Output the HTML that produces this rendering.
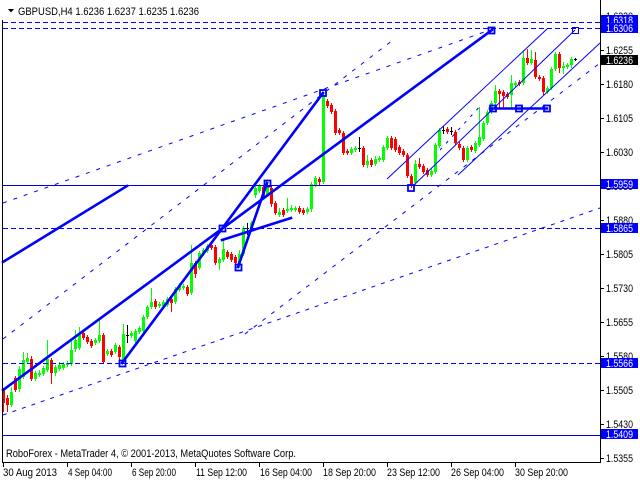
<!DOCTYPE html>
<html><head><meta charset="utf-8">
<style>
html,body{margin:0;padding:0;background:#fff;}
svg{display:block;font-family:"Liberation Sans",sans-serif;}
</style></head>
<body>
<svg width="640" height="480" viewBox="0 0 640 480" xmlns="http://www.w3.org/2000/svg">
<rect x="0" y="0" width="640" height="480" fill="#fff"/>
<!-- candles -->
<g id="c" shape-rendering="crispEdges"></g>

<!-- horizontal levels -->
<g fill="none" stroke="#0000ff" stroke-width="1" shape-rendering="crispEdges">
<line x1="3" y1="22.5" x2="600" y2="22.5" stroke-dasharray="5,3"/>
<line x1="3" y1="28.5" x2="600" y2="28.5" stroke-dasharray="5,3"/>
<line x1="3" y1="185.5" x2="600" y2="185.5" stroke="#0000d8"/>
<line x1="3" y1="228.5" x2="600" y2="228.5" stroke-dasharray="5,3"/>
<line x1="3" y1="363.5" x2="600" y2="363.5" stroke-dasharray="5,3"/>
<line x1="3" y1="435.5" x2="600" y2="435.5" stroke="#0000d8"/>
</g>

<!-- dotted trend lines -->
<g fill="none" stroke="#0000ff" stroke-width="1">
<line x1="3" y1="203" x2="490" y2="30" stroke-dasharray="4,7"/>
<line x1="3" y1="339" x2="393" y2="40" stroke-dasharray="4,7"/>
<line x1="245" y1="334" x2="600" y2="63" stroke-dasharray="4,7"/>
<line x1="3" y1="415" x2="600" y2="208" stroke-dasharray="4,6"/>
<line x1="440" y1="150" x2="482" y2="104" stroke-dasharray="3,6"/>
</g>

<!-- thin channel lines -->
<g fill="none" stroke="#0000ff" stroke-width="1">
<line x1="387" y1="179" x2="547" y2="29"/>
<line x1="413" y1="186" x2="575" y2="30"/>
<line x1="458" y1="175" x2="600" y2="43"/>
</g>

<!-- thick lines -->
<g fill="none" stroke="#0000ff" stroke-width="2.6" stroke-linecap="square">
<line x1="3" y1="390" x2="492" y2="30"/>
<line x1="122" y1="363" x2="323" y2="93"/>
<line x1="238" y1="267" x2="267" y2="183"/>
<line x1="222" y1="240" x2="291" y2="218"/>
<line x1="3" y1="262" x2="127" y2="186"/>
<line x1="490" y1="108.5" x2="547" y2="108.5"/>
</g>

<!-- anchor squares -->
<g fill="none" stroke="#0000ff" stroke-width="1.8">
<rect x="119.5" y="360.5" width="6" height="6"/>
<rect x="219.5" y="225.5" width="6" height="6"/>
<rect x="235.5" y="264.5" width="6" height="6"/>
<rect x="264.5" y="180.5" width="6" height="6"/>
<rect x="320" y="90" width="6" height="6"/>
<rect x="488.5" y="27.5" width="6" height="6"/>
<rect x="408" y="185" width="6" height="6"/>
<rect x="490" y="105.5" width="6" height="6"/>
<rect x="516" y="105.5" width="6" height="6"/>
<rect x="544" y="105.5" width="6" height="6"/>
</g>
<rect x="572.5" y="27.5" width="6" height="6" fill="none" stroke="#0000ff" stroke-width="1"/>

<!-- frame -->
<g stroke="#000" stroke-width="1" shape-rendering="crispEdges">
<line x1="2.5" y1="20" x2="2.5" y2="463"/>
<line x1="600.5" y1="0" x2="600.5" y2="463"/>
<line x1="2" y1="462.5" x2="601" y2="462.5"/>
</g>

<!-- right axis ticks -->
<g stroke="#000" stroke-width="1" shape-rendering="crispEdges">
<line x1="600" y1="16.5" x2="604" y2="16.5"/>
<line x1="600" y1="50.5" x2="604" y2="50.5"/>
<line x1="600" y1="84.5" x2="604" y2="84.5"/>
<line x1="600" y1="118.5" x2="604" y2="118.5"/>
<line x1="600" y1="152.5" x2="604" y2="152.5"/>
<line x1="600" y1="186.5" x2="604" y2="186.5"/>
<line x1="600" y1="220.5" x2="604" y2="220.5"/>
<line x1="600" y1="254.5" x2="604" y2="254.5"/>
<line x1="600" y1="288.5" x2="604" y2="288.5"/>
<line x1="600" y1="322.5" x2="604" y2="322.5"/>
<line x1="600" y1="356.5" x2="604" y2="356.5"/>
<line x1="600" y1="390.5" x2="604" y2="390.5"/>
<line x1="600" y1="424.5" x2="604" y2="424.5"/>
<line x1="600" y1="458.5" x2="604" y2="458.5"/>
</g>
<g font-size="11" fill="#000">
<text x="606" y="20" textLength="27" lengthAdjust="spacingAndGlyphs">1.6330</text>
<text x="606" y="54" textLength="27" lengthAdjust="spacingAndGlyphs">1.6255</text>
<text x="606" y="88" textLength="27" lengthAdjust="spacingAndGlyphs">1.6180</text>
<text x="606" y="122" textLength="27" lengthAdjust="spacingAndGlyphs">1.6105</text>
<text x="606" y="156" textLength="27" lengthAdjust="spacingAndGlyphs">1.6030</text>
<text x="606" y="190" textLength="27" lengthAdjust="spacingAndGlyphs">1.5955</text>
<text x="606" y="224" textLength="27" lengthAdjust="spacingAndGlyphs">1.5880</text>
<text x="606" y="258" textLength="27" lengthAdjust="spacingAndGlyphs">1.5805</text>
<text x="606" y="292" textLength="27" lengthAdjust="spacingAndGlyphs">1.5730</text>
<text x="606" y="326" textLength="27" lengthAdjust="spacingAndGlyphs">1.5655</text>
<text x="606" y="360" textLength="27" lengthAdjust="spacingAndGlyphs">1.5580</text>
<text x="606" y="394" textLength="27" lengthAdjust="spacingAndGlyphs">1.5505</text>
<text x="606" y="428" textLength="27" lengthAdjust="spacingAndGlyphs">1.5430</text>
<text x="606" y="462" textLength="27" lengthAdjust="spacingAndGlyphs">1.5355</text>
</g>

<!-- price label boxes -->
<g font-size="11" fill="#fff">
<rect x="601" y="15" width="37" height="10" fill="#0000ff"/>
<text x="606" y="24" textLength="27" lengthAdjust="spacingAndGlyphs">1.6318</text>
<rect x="601" y="23" width="37" height="10" fill="#0000ff"/>
<text x="606" y="32" textLength="27" lengthAdjust="spacingAndGlyphs">1.6306</text>
<rect x="601" y="55" width="37" height="10" fill="#000"/>
<text x="606" y="64" textLength="27" lengthAdjust="spacingAndGlyphs">1.6236</text>
<rect x="601" y="179" width="37" height="10" fill="#0000ff"/>
<text x="606" y="188" textLength="27" lengthAdjust="spacingAndGlyphs">1.5959</text>
<rect x="601" y="223" width="37" height="10" fill="#0000ff"/>
<text x="606" y="232" textLength="27" lengthAdjust="spacingAndGlyphs">1.5865</text>
<rect x="601" y="358" width="37" height="10" fill="#0000ff"/>
<text x="606" y="367" textLength="27" lengthAdjust="spacingAndGlyphs">1.5566</text>
<rect x="601" y="429" width="37" height="10" fill="#0000ff"/>
<text x="606" y="438" textLength="27" lengthAdjust="spacingAndGlyphs">1.5409</text>
</g>

<!-- bottom axis ticks -->
<g stroke="#000" stroke-width="1" shape-rendering="crispEdges">
<line x1="3.5" y1="462" x2="3.5" y2="467"/>
<line x1="67.5" y1="462" x2="67.5" y2="467"/>
<line x1="131.5" y1="462" x2="131.5" y2="467"/>
<line x1="195.5" y1="462" x2="195.5" y2="467"/>
<line x1="259.5" y1="462" x2="259.5" y2="467"/>
<line x1="323.5" y1="462" x2="323.5" y2="467"/>
<line x1="387.5" y1="462" x2="387.5" y2="467"/>
<line x1="451.5" y1="462" x2="451.5" y2="467"/>
<line x1="515.5" y1="462" x2="515.5" y2="467"/>
</g>
<g font-size="11" fill="#000">
<text x="3" y="476" textLength="54" lengthAdjust="spacingAndGlyphs">30 Aug 2013</text>
<text x="68" y="476" textLength="44" lengthAdjust="spacingAndGlyphs">4 Sep 04:00</text>
<text x="132" y="476" textLength="44" lengthAdjust="spacingAndGlyphs">6 Sep 20:00</text>
<text x="196" y="476" textLength="51" lengthAdjust="spacingAndGlyphs">11 Sep 12:00</text>
<text x="260" y="476" textLength="52" lengthAdjust="spacingAndGlyphs">16 Sep 04:00</text>
<text x="323" y="476" textLength="53" lengthAdjust="spacingAndGlyphs">18 Sep 20:00</text>
<text x="387" y="476" textLength="53" lengthAdjust="spacingAndGlyphs">23 Sep 12:00</text>
<text x="451" y="476" textLength="53" lengthAdjust="spacingAndGlyphs">26 Sep 04:00</text>
<text x="515" y="476" textLength="53" lengthAdjust="spacingAndGlyphs">30 Sep 20:00</text>
</g>

<!-- copyright -->
<text x="6" y="457" font-size="11" fill="#000" textLength="290" lengthAdjust="spacingAndGlyphs">RoboForex - MetaTrader 4, © 2001-2013, MetaQuotes Software Corp.</text>

<!-- title -->
<polygon points="8,9 14,9 11,12.5" fill="#000"/>
<text x="18" y="15" font-size="11" fill="#000" textLength="181" lengthAdjust="spacingAndGlyphs">GBPUSD,H4  1.6236 1.6237 1.6235 1.6236</text>
</svg>

<script>
var D=[
['r',390,403,388,412],['r',398,405,395,412],['g',392,405,387,407],['r',378,390,376,392],
['g',369,389,366,392],['g',360,377,352,379],['g',358,362,353,364],['r',359,379,356,381],
['g',373,379,371,381],['g',373,375,370,377],['g',368,374,366,376],['g',359,370,340,372],
['r',360,373,358,384],['g',367,373,365,376],['g',365,369,362,371],['g',364,368,362,370],
['g',363,365,361,367],['g',350,364,340,366],['g',340,349,330,352],['g',333,348,327,350],
['r',333,338,331,340],['r',337,342,335,344],['r',341,346,339,348],['g',340,343,338,345],
['g',335,341,318,343],['r',335,362,333,364],['g',351,354,349,356],['r',351,355,349,357],
['g',345,352,343,354],['r',347,357,345,364],['g',334,361,324,364],['d',335,335,325,343],
['g',333,336,331,338],['g',331,341,329,343],['g',328,332,326,334],['g',317,331,315,333],
['g',307,317,305,319],['g',302,307,288,309],['r',301,307,299,309],['g',304,306,302,308],
['g',302,306,300,308],['g',299,305,297,307],['r',299,303,297,312],['g',289,302,287,304],
['g',285,290,283,292],['g',286,288,284,290],['r',287,294,285,296],['g',263,293,245,295],
['r',263,274,261,278],['g',253,268,251,270],['g',250,254,248,256],['g',246,251,244,253],
['r',245,248,243,250],['r',247,263,245,265],['g',259,263,257,270],['g',249,260,238,262],
['r',252,257,250,259],['r',254,260,252,262],['r',257,263,255,265],['g',254,263,250,268],
['g',228,254,226,256],['d',228,228,223,235],['g',223,228,221,230],['g',188,195,186,198],
['g',186,191,184,193],['r',187,197,185,199],['g',185,195,183,197],['r',188,204,185,207],
['r',203,213,201,215],['g',212,215,208,217],['r',210,215,208,217],['g',209,211,198,213],
['g',208,210,205,212],['g',208,210,206,212],['r',208,212,206,214],['r',210,213,208,215],
['g',209,212,207,214],['g',184,209,182,212],['g',178,185,176,187],['r',179,182,177,186],
['g',95,182,93,184],['r',101,106,99,108],['r',105,112,103,114],['r',111,133,109,135],
['r',130,133,128,135],['r',133,153,131,155],['r',151,153,149,155],['g',149,153,147,155],
['g',148,150,146,152],['d',148,148,137,152],['r',148,165,146,167],['g',161,165,155,168],
['r',160,165,158,167],['g',159,164,156,166],['g',158,160,156,162],['g',147,160,145,162],
['g',138,148,136,150],['r',138,148,136,150],['r',139,150,137,152],['r',147,153,145,155],
['r',151,155,149,157],['r',155,176,153,178],['r',176,184,174,188],['g',164,183,160,185],
['r',164,167,158,169],['r',166,172,164,174],['r',170,175,168,177],['g',171,175,169,177],
['g',145,172,143,174],['g',130,146,128,148],['d',130,130,126,134],['r',129,132,127,134],
['d',131,131,127,135],['r',132,143,130,145],['r',144,148,142,150],['r',148,160,146,162],
['g',148,160,146,162],['r',147,150,145,152],['g',143,151,141,153],['g',137,145,107,147],
['g',123,139,121,141],['g',112,123,110,125],['g',103,112,101,114],['g',91,103,85,105],
['r',91,94,89,108],['r',92,96,90,108],['r',94,97,92,99],['g',83,95,75,108],
['g',83,85,81,87],['r',82,84,80,86],['g',58,83,50,85],['r',58,63,49,65],
['g',59,63,50,65],['r',60,77,52,79],['r',77,79,75,81],['r',78,92,76,95],
['g',88,92,86,94],['g',69,88,67,90],['g',54,69,52,71],['r',54,68,52,73],
['g',66,68,62,74],['g',65,67,63,69],['g',59,65,57,68],['d',59,59,58,61]
];
var NS="http://www.w3.org/2000/svg",g=document.getElementById('c');
for(var i=0;i<D.length;i++){
 var d=D[i],col=d[0]=='g'?'#00ff00':(d[0]=='r'?'#ff0000':'#000000'),x=2+4*i;
 var w=document.createElementNS(NS,'rect');
 w.setAttribute('x',x+1);w.setAttribute('y',d[3]);w.setAttribute('width',1);w.setAttribute('height',Math.max(d[4]-d[3],1));w.setAttribute('fill',col);g.appendChild(w);
 var b=document.createElementNS(NS,'rect');
 b.setAttribute('x',x);b.setAttribute('y',d[1]);b.setAttribute('width',3);b.setAttribute('height',Math.max(d[2]-d[1],1));b.setAttribute('fill',col);g.appendChild(b);
}
</script>
</body></html>
